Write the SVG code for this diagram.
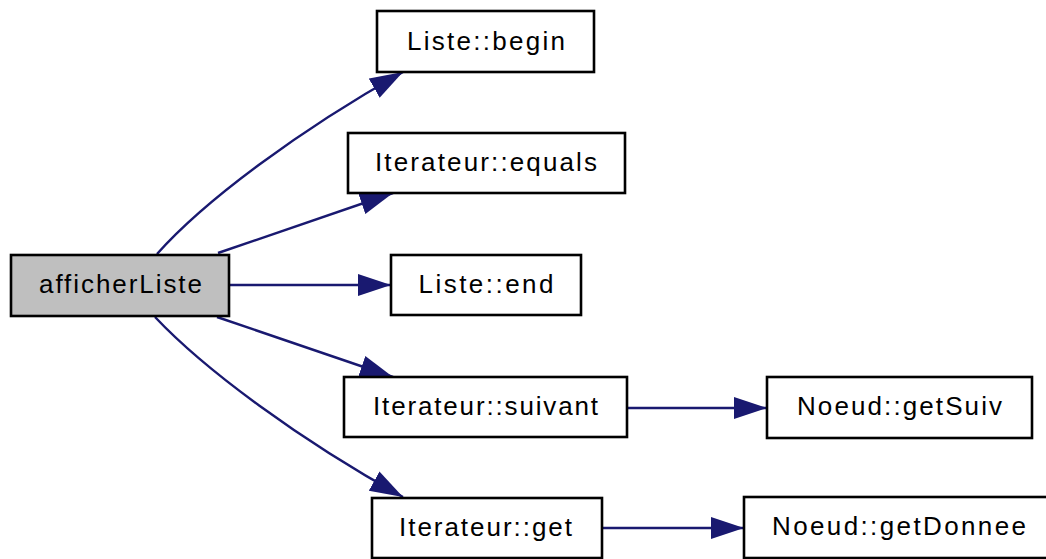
<svg xmlns="http://www.w3.org/2000/svg" width="1046" height="559" viewBox="0 0 1046 559">
<style>
.box{fill:#ffffff;stroke:#000000;stroke-width:2.6}
.root{fill:#bfbfbf}
.lbl{font-family:"Liberation Sans",Arial,sans-serif;font-size:26px;fill:#000000;text-anchor:middle}
.edge{fill:none;stroke:#191970;stroke-width:2.4}
</style>
<defs>
<marker id="arr" markerUnits="userSpaceOnUse" markerWidth="34" markerHeight="24" refX="33" refY="12" orient="auto">
<path d="M0,1 L33,12 L0,23 z" fill="#191970"/>
</marker>
</defs>
<rect width="1046" height="559" fill="#ffffff"/>
<g id="connectors">
<path class="edge" marker-end="url(#arr)" d="M157,254 C205,200 300,130 403,72"/>
<path class="edge" marker-end="url(#arr)" d="M218,253 L393,193"/>
<path class="edge" marker-end="url(#arr)" d="M229,285 L391,285"/>
<path class="edge" marker-end="url(#arr)" d="M217,317 L393,377"/>
<path class="edge" marker-end="url(#arr)" d="M155,317 C205,370 300,440 403,497"/>
<path class="edge" marker-end="url(#arr)" d="M627,408 L767,408"/>
<path class="edge" marker-end="url(#arr)" d="M602,528 L744,528"/>
</g>
<g id="afficherListe">
<rect class="box root" x="11" y="255" width="218" height="61"/>
<text class="lbl" x="120.5" y="293" textLength="163" lengthAdjust="spacing">afficherListe</text>
</g>
<g id="Liste_begin">
<rect class="box" x="377" y="11" width="217" height="61"/>
<text class="lbl" x="486" y="50" textLength="158" lengthAdjust="spacing">Liste::begin</text>
</g>
<g id="Iterateur_equals">
<rect class="box" x="348" y="133" width="277" height="60"/>
<text class="lbl" x="486" y="171" textLength="222" lengthAdjust="spacing">Iterateur::equals</text>
</g>
<g id="Liste_end">
<rect class="box" x="391" y="255" width="190" height="60"/>
<text class="lbl" x="486" y="293" textLength="135" lengthAdjust="spacing">Liste::end</text>
</g>
<g id="Iterateur_suivant">
<rect class="box" x="344" y="377" width="283" height="60"/>
<text class="lbl" x="485.5" y="415" textLength="225" lengthAdjust="spacing">Iterateur::suivant</text>
</g>
<g id="Noeud_getSuiv">
<rect class="box" x="767" y="377" width="265" height="61"/>
<text class="lbl" x="899.5" y="415" textLength="205" lengthAdjust="spacing">Noeud::getSuiv</text>
</g>
<g id="Iterateur_get">
<rect class="box" x="372" y="498" width="230" height="60"/>
<text class="lbl" x="485.5" y="536" textLength="173" lengthAdjust="spacing">Iterateur::get</text>
</g>
<g id="Noeud_getDonnee">
<rect class="box" x="744" y="497" width="310" height="61"/>
<text class="lbl" x="899" y="535" textLength="254" lengthAdjust="spacing">Noeud::getDonnee</text>
</g>
</svg>
